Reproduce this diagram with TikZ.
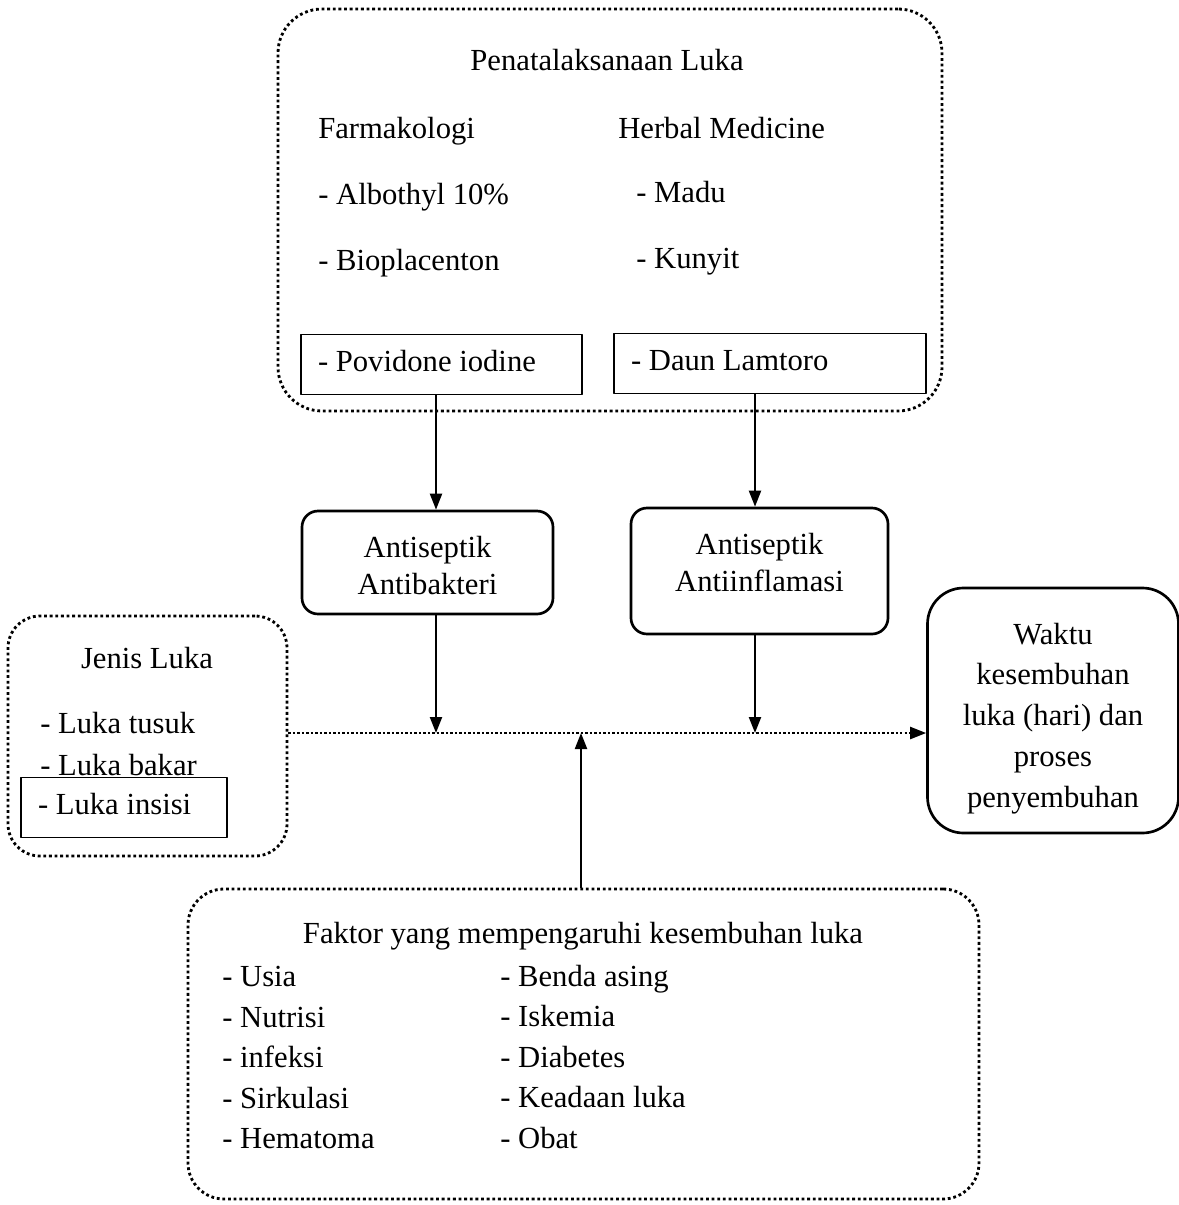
\documentclass[tikz,border=0pt]{standalone}
\usepackage{fontspec}
\setmainfont{Liberation Serif}
\usetikzlibrary{arrows.meta,fit}

\begin{document}
\begin{tikzpicture}[x=0.25mm, y=-0.25mm, font=\fontsize{21.8}{26}\selectfont, line join=round,
	>={Triangle[length=4mm,width=3mm]},
	titik/.style={draw, line width=2pt, dash pattern=on 2pt off 2pt, inner sep=0pt},
	garis/.style={line width=1.6pt, dash pattern=on 1.6pt off 1.6pt},
	kotak/.style={draw, line width=1.4pt, minimum height={60*0.25mm}, inner xsep={17*0.25mm}, align=flush left, text height=1.05em, text depth=0.1em},
	bulat/.style={draw, line width=1.9pt, rounded corners=4mm, align=center},
	teks/.style={anchor=west, inner sep=0pt, text height=0.72em, text depth=0.22em, yshift=-1.7mm},
	panah/.style={->, line width=1.5pt}]
	\useasboundingbox (0,0) rectangle (1179,1205);
	% penatalaksanaan
	\node[titik, rounded corners=11mm, fit={(278,9) (942,411)}] (penata) {};
	\node (judul) at (607,60) {Penatalaksanaan Luka};
	\node[teks] (farma) at (318,128) {Farmakologi};
	\node[teks] (herbal) at (618,128) {Herbal Medicine};
	\node[teks] (albo) at (318,194) {- Albothyl 10\%};
	\node[teks] (madu) at (636,192) {- Madu};
	\node[teks] (biopla) at (318,260) {- Bioplacenton};
	\node[teks] (kunyit) at (636,258) {- Kunyit};
	\node[kotak, minimum width={281*0.25mm}, text width={247*0.25mm}] (povidon) at (441.5,364.5) {- Povidone iodine};
	\node[kotak, minimum width={312*0.25mm}, text width={278*0.25mm}] (daun) at (770,363.5) {- Daun Lamtoro};
	% antiseptik
	\node[bulat, minimum width={251*0.25mm}, minimum height={103*0.25mm}] (antibak) at (427.5,562.5) {\rule{0pt}{0.9em}Antiseptik\\Antibakteri};
	\node[bulat, minimum width={257*0.25mm}, minimum height={126*0.25mm}, text depth={17*0.25mm}] (antiinf) at (759.5,571) {Antiseptik\\Antiinflamasi};
	% jenis luka
	\node[titik, rounded corners=8mm, fit={(8,616) (287,856)}] (jenis) {};
	\node (jenisjudul) at (147,658) {Jenis Luka};
	\node[teks] (tusuk) at (40,723) {- Luka tusuk};
	\node[teks] (bakar) at (40,765) {- Luka bakar};
	\node[kotak, fill=white, minimum width={206*0.25mm}, text width={172*0.25mm}] (insisi) at (124,807.5) {- Luka insisi};
	% waktu kesembuhan
	\node[bulat, rounded corners=9mm, minimum width={251*0.25mm}, minimum height={245*0.25mm}, font=\fontsize{21.8}{29}\selectfont] (waktu) at (1053,710.5) {\rule{0pt}{1.2em}Waktu\\kesembuhan\\luka (hari) dan\\proses\\penyembuhan};
	% faktor
	\node[titik, rounded corners=9mm, fit={(188,889) (979,1199)}] (faktor) {};
	\node (faktorjudul) at (583,936) {Faktor yang mempengaruhi kesembuhan luka};
	\foreach \nama/\isi/\y in {usia/Usia/976, nutrisi/Nutrisi/1017, infeksi/infeksi/1057, sirkulasi/Sirkulasi/1098, hematoma/Hematoma/1138}
		\node[teks] (\nama) at (222,\y) {- \isi};
	\foreach \nama/\isi/\y in {benda/Benda asing/976, iskemia/Iskemia/1016, diabetes/Diabetes/1057, keadaan/Keadaan luka/1097, obat/Obat/1138}
		\node[teks] (\nama) at (500,\y) {- \isi};
	% panah
	\coordinate (kiri) at (436,0);
	\coordinate (kanan) at (755,0);
	\coordinate (temu) at (581,733);
	\draw[panah] (povidon.south -| kiri) -- (antibak.north -| kiri);
	\draw[panah] (daun.south -| kanan) -- (antiinf.north -| kanan);
	\draw[panah] (antibak.south -| kiri) -- (kiri |- temu);
	\draw[panah] (antiinf.south -| kanan) -- (kanan |- temu);
	\draw[garis, ->] (jenis.east |- temu) -- (waktu.west |- temu);
	\draw[panah] (faktor.north -| temu) -- (temu);
\end{tikzpicture}
\end{document}
